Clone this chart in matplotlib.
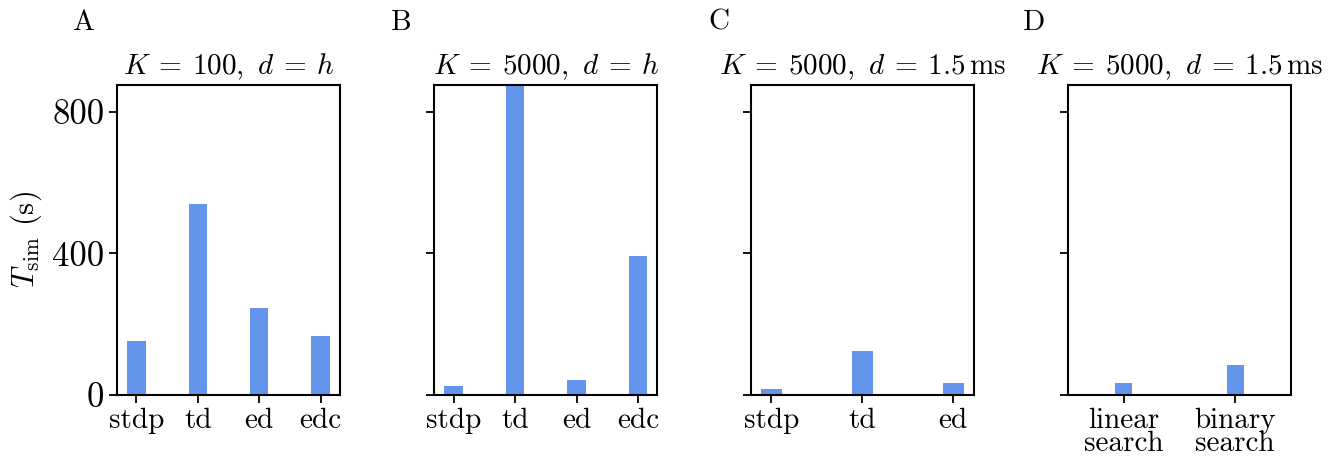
import matplotlib
matplotlib.use("Agg")
import matplotlib.pyplot as plt

plt.rcParams['font.family'] = 'cmr10'
plt.rcParams['mathtext.fontset'] = 'cm'
plt.rcParams['axes.unicode_minus'] = False
plt.rcParams['axes.formatter.use_mathtext'] = True

titles = [r"$K\:=\:100,\ d\:=\:h$", r"$K\:=\:5000,\ d\:=\:h$",
          r"$K\:=\:5000,\ d\:=\:1.5\,\mathrm{ms}$", r"$K\:=\:5000,\ d\:=\:1.5\,\mathrm{ms}$"]
panel_labels = ["A", "B", "C", "D"]

cats_a = ["stdp", "td", "ed", "edc"]
vals_a = [152, 540, 246, 167]
cats_b = ["stdp", "td", "ed", "edc"]
vals_b = [26, 875, 42, 393]
cats_c = ["stdp", "td", "ed"]
vals_c = [17, 124, 34]
cats_d = ["linear\nsearch", "binary\nsearch"]
vals_d = [34, 85]

yticks = [0, 400, 800]
ymax = 875

fig = plt.figure(figsize=(13.35, 4.57), dpi=100)
lefts = [117, 434.3, 750.7, 1068]
W, H = 1335, 457
bottom = 1 - 395 / H
height = (395 - 85) / H
width = 223 / W
label_x = [73, 391, 708, 1023]

data = [(cats_a, vals_a, 0.3), (cats_b, vals_b, 0.3), (cats_c, vals_c, 0.23), (cats_d, vals_d, 0.15)]
color = "#6495ED"
for i, ((cats, vals, bw), l) in enumerate(zip(data, lefts)):
    ax = fig.add_axes([l / W, bottom, width, height])
    x = list(range(len(cats)))
    ax.bar(x, vals, width=bw, color=color)
    ax.set_xticks(x)
    ax.set_xticklabels(cats, fontsize=21, linespacing=0.85)
    ax.set_ylim(0, ymax)
    ax.set_yticks(yticks)
    if i == 0:
        ax.set_yticklabels([str(v) for v in yticks], fontsize=25)
        ax.set_ylabel(r"$T_\mathrm{sim}$ (s)", fontsize=22, labelpad=6)
    else:
        ax.set_yticklabels([])
    if i == 3:
        ax.set_xlim(-0.5, 1.5)
    for s in ax.spines.values():
        s.set_linewidth(1.5)
    ax.tick_params(axis='both', width=1.3, length=6, pad=3)
    ax.set_title(titles[i], fontsize=21, pad=8)
    fig.text(label_x[i] / W, 1 - 30 / H, panel_labels[i], fontsize=21, ha='left', va='baseline')

fig.savefig("out.png", dpi=100)
